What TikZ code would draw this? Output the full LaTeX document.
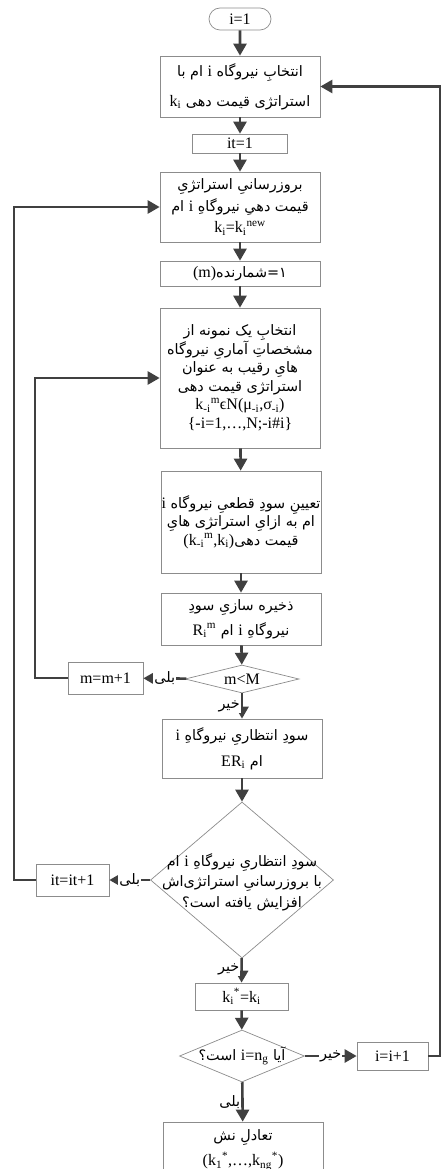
\documentclass[tikz,border=0pt]{standalone}
\usepackage{fontspec}
\setmainfont{Liberation Serif}
\newfontfamily\fa[Script=Arabic,Scale=0.9]{DejaVu Sans}
\TeXXeTstate=1
\usetikzlibrary{arrows.meta,shapes.geometric,shapes.misc}
\definecolor{linegray}{HTML}{404040}
\definecolor{boxgray}{HTML}{8C8C8C}
\newcommand{\rl}[1]{{\fa\beginR #1\endR}}
\newcommand{\entext}[1]{{\normalfont\beginL #1\endL}}

\begin{document}
\begin{tikzpicture}
[x=1pt, y=-1pt, line width=0.7pt,
box/.style={rectangle, draw=boxgray, fill=white, inner sep=0pt, minimum width=160pt, align=center, font=\fontsize{16}{19}\selectfont},
term/.style={rounded rectangle, draw=boxgray, fill=white, inner sep=0pt, minimum width=62pt, minimum height=22pt, font=\fontsize{16}{19}\selectfont},
cond/.style={diamond, draw=boxgray, fill=white, inner sep=0pt, aspect=1},
condtext/.style={align=center, inner sep=0pt, font=\fontsize{16}{19}\selectfont},
flow/.style={draw=linegray, line width=2.6pt, -{Triangle[length=12pt,width=13pt]}},
tag/.style={fill=white, inner sep=1pt, font=\fontsize{16}{19}\selectfont}
]
\useasboundingbox (0,0) rectangle (441,1169);

\node[term] (start) at (240,19) {i=1};
\node[box, minimum height=61pt, font=\fontsize{16}{30}\selectfont] (sel) at (240,86.5) {\rl{انتخابِ نیروگاه \entext{i} ام با}\\\rl{استراتژی قیمت دهی \entext{k\textsubscript{i}}}};
\node[box, minimum width=95pt, minimum height=19pt] (it1) at (240,143.5) {it=1};
\node[box, minimum height=70pt, font=\fontsize{16}{21.5}\selectfont] (upd) at (240,207) {\rl{بروزرسانیِ استراتژیِ}\\\rl{قیمت دهیِ نیروگاهِ \entext{i} ام}\\k\textsubscript{i}=k\textsubscript{i}\textsuperscript{new}};
\node[box, minimum height=25pt] (cnt) at (240,273.5) {\rl{۱=شمارنده\entext{(m)}}};
\node[box, minimum height=140pt, font=\fontsize{16}{18.5}\selectfont] (samp) at (240,378) {\rl{انتخابِ یک نمونه از}\\\rl{مشخصاتِ آماریِ نیروگاه}\\\rl{هایِ رقیب به عنوان}\\\rl{استراتژی قیمت دهی}\\k\textsubscript{-i}\textsuperscript{m}ϵN(μ\textsubscript{-i},σ\textsubscript{-i})\\\{-i=1,…,N;-i\#i\}};
\node[box, minimum height=102pt, font=\fontsize{16}{18.5}\selectfont] (prof) at (241,522) {\rl{تعیینِ سودِ قطعیِ نیروگاه \entext{i}}\\\rl{ام به ازایِ استراتژی هایِ}\\\rl{قیمت دهی\entext{(k\textsubscript{-i}\textsuperscript{m},k\textsubscript{i})}}};
\node[box, minimum height=52pt, font=\fontsize{16}{25}\selectfont] (save) at (241,619) {\rl{ذخیره سازیِ سودِ}\\\rl{نیروگاهِ \entext{i} ام \entext{R\textsubscript{i}\textsuperscript{m}}}};
\node[cond, minimum width=114pt, minimum height=28pt] (mchk) at (242,679) {};
\node[condtext] (mchktxt) at (mchk) {m<M};
\node[box, minimum width=75pt, minimum height=32pt] (minc) at (105.5,678) {m=m+1};
\node[box, minimum height=59pt, font=\fontsize{16}{26}\selectfont] (exp) at (242,748.5) {\rl{سودِ انتظاریِ نیروگاهِ \entext{i}}\\\rl{ام \entext{ER\textsubscript{i}}}};
\node[cond, minimum width=183pt, minimum height=156pt] (chk) at (242,880) {};
\node[condtext, font=\fontsize{16}{20.5}\selectfont] (chktxt) at (242,882) {\rl{سودِ انتظاریِ نیروگاهِ \entext{i} ام}\\\rl{با بروزرسانیِ استراتژی‌اش}\\\rl{افزایش یافته است؟}};
\node[box, minimum width=73pt, minimum height=32pt] (itinc) at (72.5,880) {it=it+1};
\node[box, minimum width=93pt, minimum height=27pt] (kst) at (241.5,996.5) {k\textsubscript{i}\textsuperscript{*}=k\textsubscript{i}};
\node[cond, minimum width=125pt, minimum height=52pt] (ichk) at (242,1056) {};
\node[condtext] (ichktxt) at (ichk) {\rl{آیا \entext{i=n\textsubscript{g}} است؟}};
\node[box, minimum width=71pt, minimum height=28pt] (iinc) at (392.5,1056) {i=i+1};
\node[box, minimum height=56pt, font=\fontsize{16}{25}\selectfont] (nash) at (243,1150) {\rl{تعادلِ نش}\\(k\textsubscript{1}\textsuperscript{*},…,k\textsubscript{ng}\textsuperscript{*})};

\coordinate (mback) at (35,0);
\coordinate (itback) at (14,0);
\coordinate (iback) at (440,0);

\draw[flow] (start) -- (sel);
\draw[flow] (sel) -- (it1);
\draw[flow] (it1) -- (upd);
\draw[flow] (upd) -- (cnt);
\draw[flow] (cnt) -- (samp);
\draw[flow] (samp) -- (prof);
\draw[flow] (prof) -- (save);
\draw[flow] (save) -- (mchk);
\draw[flow] (mchk) -- node[tag] {\rl{بلی}} (minc);
\draw[flow] (minc.west) -| (mback |- samp.west) -- (samp.west);
\draw[flow] (mchk) -- node[tag, left] {\rl{خیر}} (exp);
\draw[flow] (exp) -- (chk);
\draw[flow] (chk) -- node[tag] {\rl{بلی}} (itinc);
\draw[flow] (itinc.west) -| (itback |- upd.west) -- (upd.west);
\draw[flow] (chk) -- node[tag, left, pos=0.45] {\rl{خیر}} (kst);
\draw[flow] (kst) -- (ichk);
\draw[flow] (ichk) -- node[tag] {\rl{خیر}} (iinc);
\draw[flow] (iinc.east) -| (iback |- sel.east) -- (sel.east);
\draw[flow] (ichk) -- node[tag, left] {\rl{بلی}} (nash);
\end{tikzpicture}
\end{document}
